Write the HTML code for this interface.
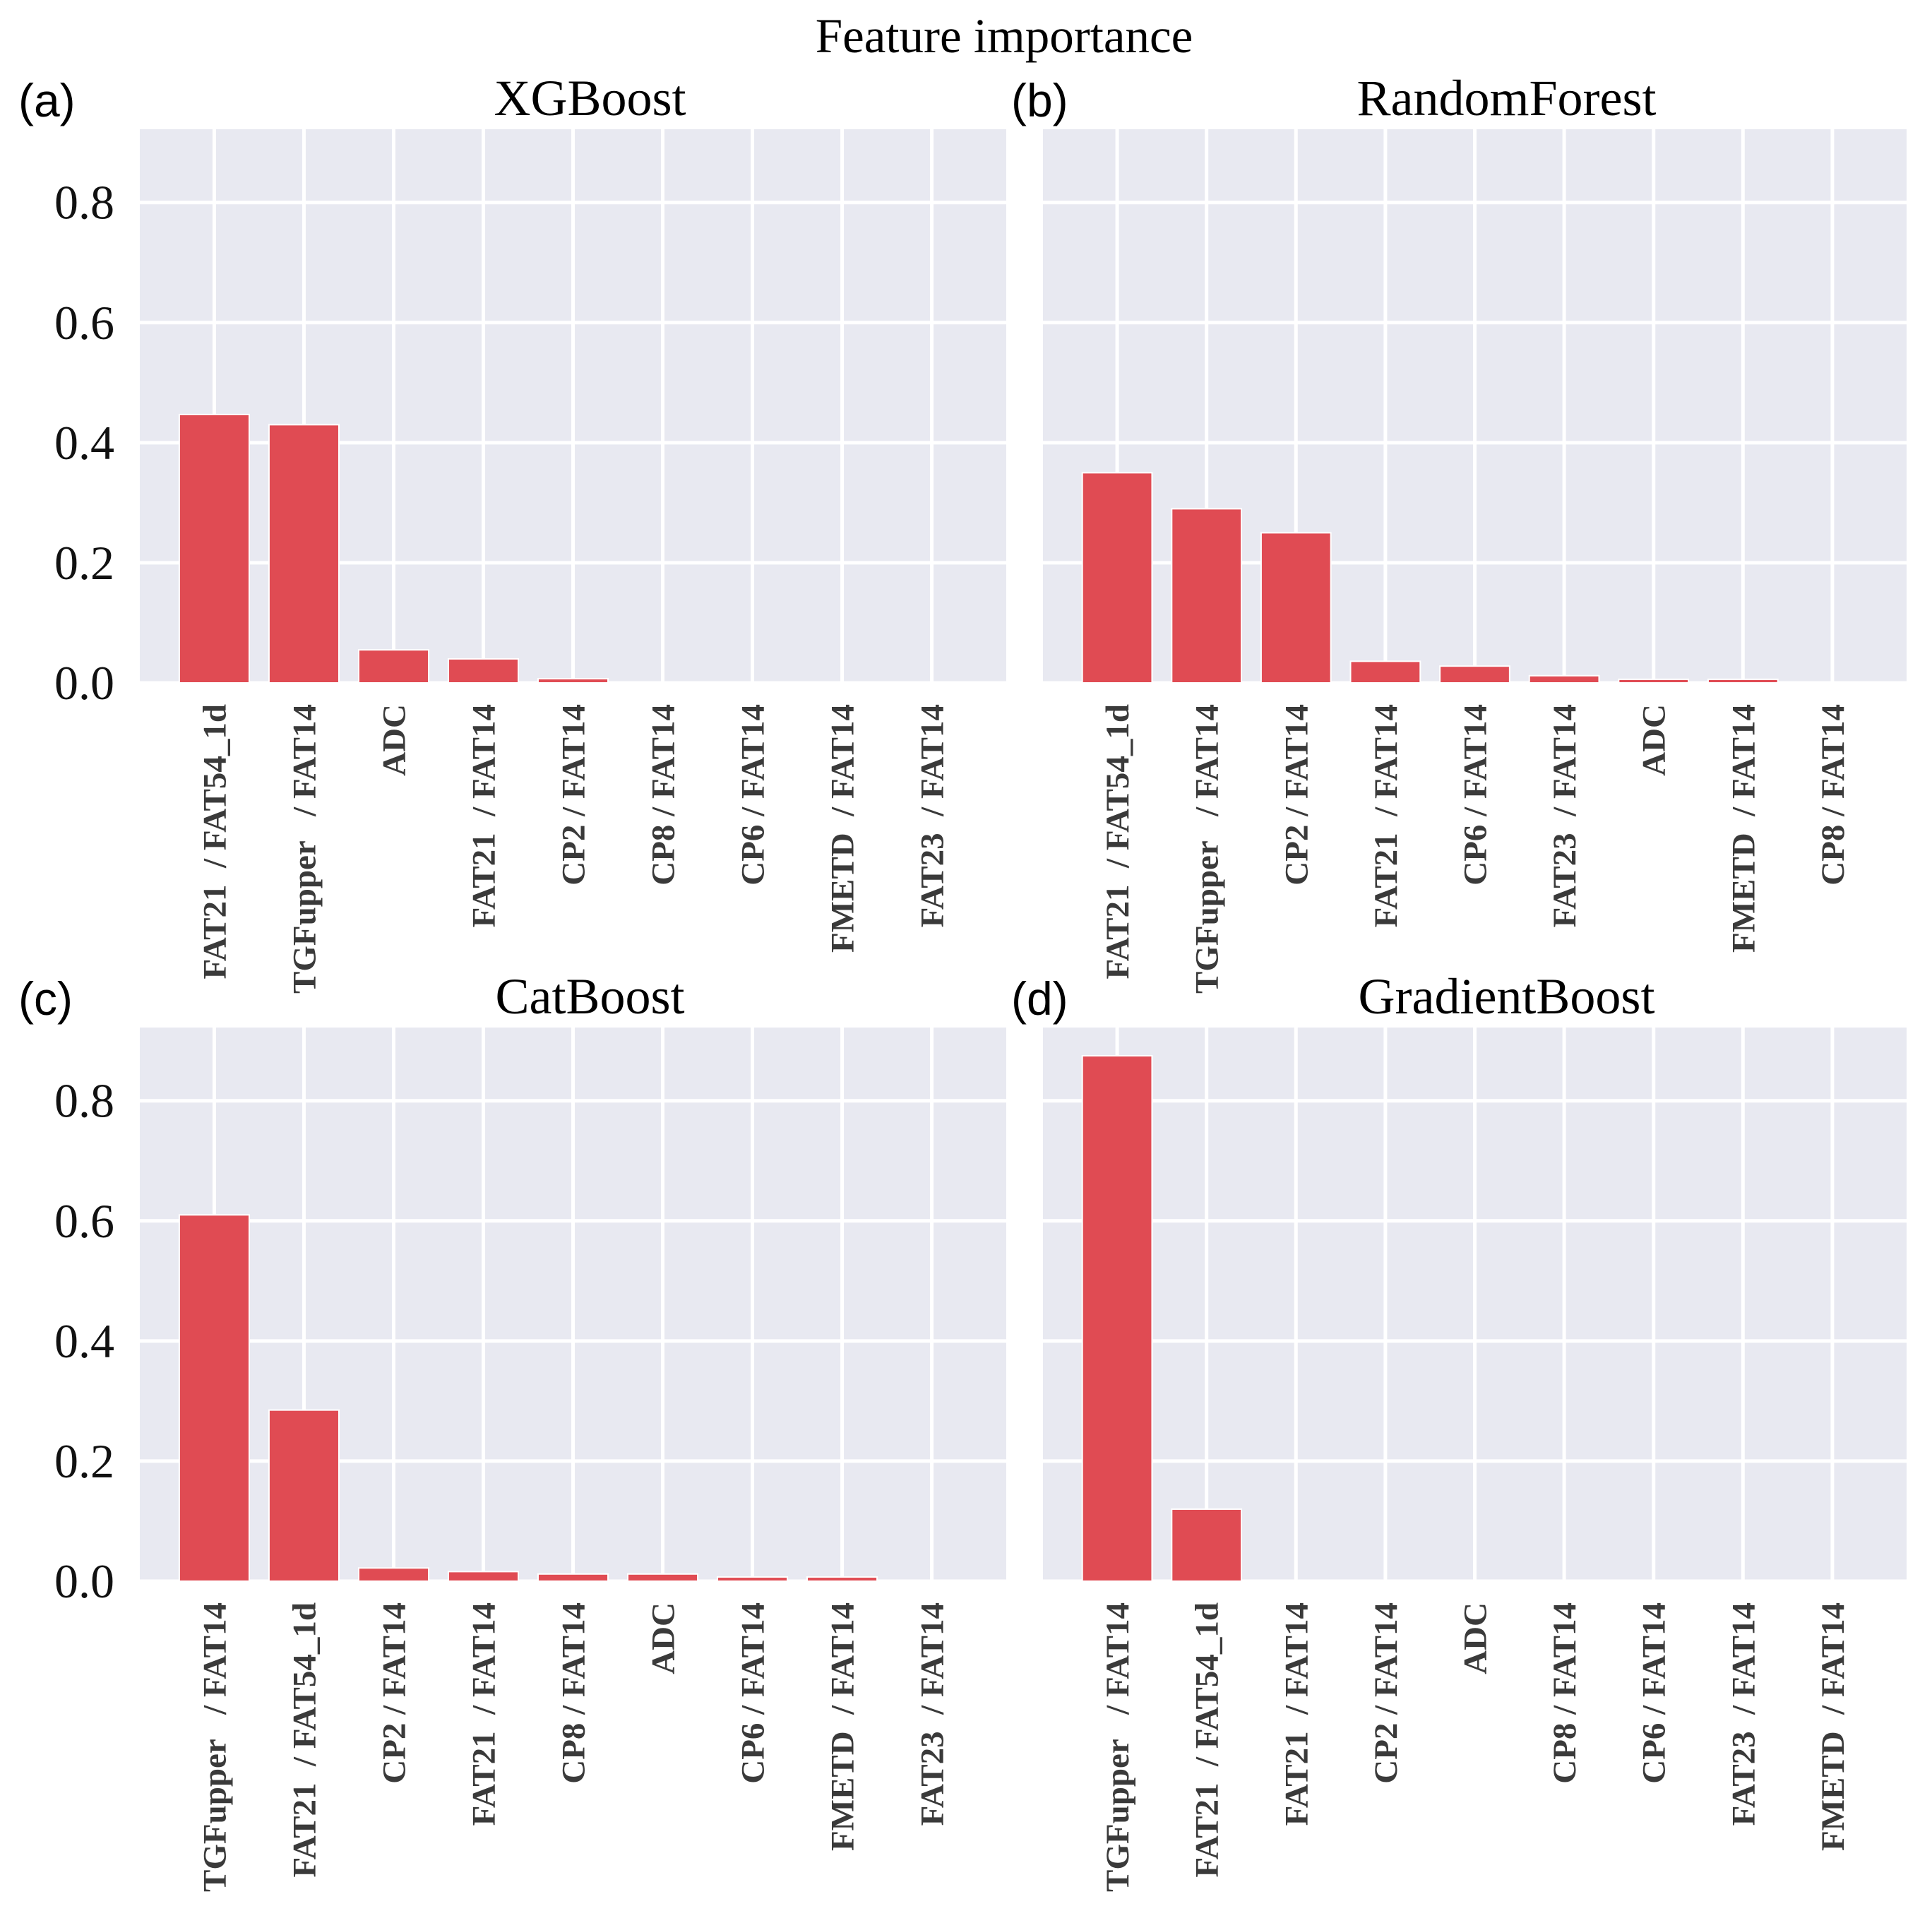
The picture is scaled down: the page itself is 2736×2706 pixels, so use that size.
<!DOCTYPE html>
<html><head><meta charset="utf-8"><style>
html,body{margin:0;padding:0;background:#fff;}
svg{display:block;}
</style></head><body>
<svg id="fig" width="2736" height="2706" xmlns="http://www.w3.org/2000/svg">
<text x="1422" y="74" font-family="Liberation Serif, serif" font-size="69" text-anchor="middle" fill="#000">Feature importance</text>
</svg>
<script>
const xgbLabels = ["FAT21  / FAT54_1d","TGFupper   / FAT14","ADC","FAT21  / FAT14","CP2 / FAT14","CP8 / FAT14","CP6 / FAT14","FMETD  / FAT14","FAT23  / FAT14"];
const xgbValues = [0.447,0.430,0.055,0.040,0.007,0,0,0,0];
const rfLabels = ["FAT21  / FAT54_1d","TGFupper   / FAT14","CP2 / FAT14","FAT21  / FAT14","CP6 / FAT14","FAT23  / FAT14","ADC","FMETD  / FAT14","CP8 / FAT14"];
const rfValues = [0.350,0.290,0.250,0.036,0.028,0.012,0.006,0.006,0];
const cbLabels = ["TGFupper   / FAT14","FAT21  / FAT54_1d","CP2 / FAT14","FAT21  / FAT14","CP8 / FAT14","ADC","CP6 / FAT14","FMETD  / FAT14","FAT23  / FAT14"];
const cbValues = [0.610,0.285,0.022,0.016,0.012,0.012,0.007,0.007,0];
const gbLabels = ["TGFupper   / FAT14","FAT21  / FAT54_1d","FAT21  / FAT14","CP2 / FAT14","ADC","CP8 / FAT14","CP6 / FAT14","FAT23  / FAT14","FMETD  / FAT14"];
const gbValues = [0.875,0.120,0,0,0,0,0,0,0];
const yTicks = [0.0,0.2,0.4,0.6,0.8];
const panelTitles = ["XGBoost","RandomForest","CatBoost","GradientBoost"];
const panelTags = ["(a)","(b)","(c)","(d)"];

const NS="http://www.w3.org/2000/svg";
const svg=document.getElementById('fig');
function mk(tag,attrs,parent){const e=document.createElementNS(NS,tag);for(const k in attrs)e.setAttribute(k,attrs[k]);(parent||svg).appendChild(e);return e;}

const boxes=[{l:198,r:1425,t:183,b:967},{l:1477,r:2700,t:183,b:967},{l:198,r:1425,t:1455,b:2239},{l:1477,r:2700,t:1455,b:2239}];
const labelsAll=[xgbLabels,rfLabels,cbLabels,gbLabels];
const valuesAll=[xgbValues,rfValues,cbValues,gbValues];
const XMIN=-0.83,XMAX=8.83,YMAX=0.922;

boxes.forEach((bx,p)=>{
  const g=mk('g',{});
  
  
  const xs=i=>bx.l+(i-XMIN)/(XMAX-XMIN)*(bx.r-bx.l);
  const ys=v=>bx.b-v/YMAX*(bx.b-bx.t);
  const bg=mk('rect',{x:bx.l,y:bx.t,width:bx.r-bx.l,height:bx.b-bx.t,fill:'#e8e9f1'},g);
  
  
  yTicks.forEach(t=>{
    const ln=mk('line',{x1:bx.l,x2:bx.r,y1:ys(t),y2:ys(t),stroke:'#fff','stroke-width':5},g);
    
    
    if(p%2===0){
      const tx=mk('text',{x:162,y:ys(t)+23,'font-family':'Liberation Serif, serif','font-size':68,'text-anchor':'end',fill:'#111'},g);
      tx.textContent=t.toFixed(1);
      
      
    }
  });
  const labs=labelsAll[p],vals=valuesAll[p];
  labs.forEach((lb,i)=>{
    const ln=mk('line',{x1:xs(i),x2:xs(i),y1:bx.t,y2:bx.b,stroke:'#fff','stroke-width':5},g);
    
    
  });
  vals.forEach((v,i)=>{
    if(v<=0)return;
    const w=0.78*(bx.r-bx.l)/(XMAX-XMIN);
    const r=mk('rect',{x:xs(i)-w/2,y:ys(v),width:w,height:ys(0)-ys(v),fill:'#e04b53',stroke:'#fff','stroke-width':2},g);
    
    
  });
  labs.forEach((lb,i)=>{
    const x=xs(i)+16,y=bx.b+30;
    const tx=mk('text',{x:x,y:y,transform:`rotate(-90 ${x} ${y})`,'font-family':'Liberation Serif, serif','font-weight':'bold','font-size':47,'text-anchor':'end',fill:'#3a3a3a'},g);
    tx.setAttribute('style','white-space:pre');
    tx.textContent=lb;
    
    
  });
  const ti=mk('text',{x:(bx.l+bx.r)/2+(p%2===0?24:45),y:bx.t-20,'font-family':'Liberation Serif, serif','font-size':72,'text-anchor':'middle',fill:'#000'},g);
  ti.textContent=panelTitles[p];
  
  
  const tg=mk('text',{x:(p%2===0?26:1432),y:bx.t-18,'font-family':'Liberation Sans, sans-serif','font-size':66,fill:'#000'},g);
  tg.textContent=panelTags[p];
  
  
});
</script>
</body></html>
